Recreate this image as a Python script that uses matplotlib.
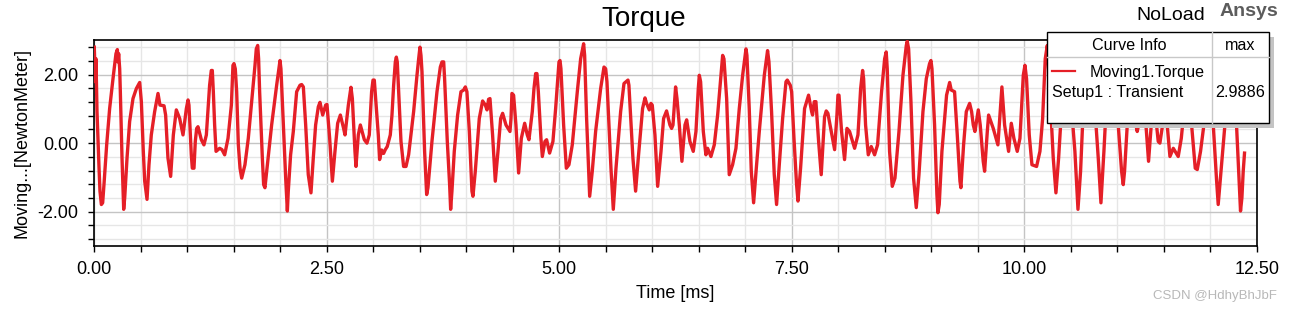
import matplotlib
matplotlib.use("Agg")
import matplotlib.pyplot as plt
from matplotlib.patches import Rectangle
from matplotlib.lines import Line2D
import numpy as np

plt.rcParams['font.family'] = ['Liberation Sans', 'DejaVu Sans']
plt.rcParams['axes.unicode_minus'] = False

# ---------------- data ----------------
time_ms = [
    0.000, 0.011, 0.018, 0.029, 0.040, 0.051, 0.061, 0.076, 0.090, 0.104, 0.133, 0.165, 0.201, 0.233, 0.248,
    0.255, 0.262, 0.273, 0.280, 0.298, 0.316, 0.327, 0.352, 0.380, 0.416, 0.452, 0.488, 0.506, 0.527, 0.542,
    0.567, 0.588, 0.613, 0.649, 0.685, 0.706, 0.750, 0.767, 0.792, 0.821, 0.850, 0.882, 0.918, 0.954, 0.990,
    1.008, 1.018, 1.043, 1.054, 1.072, 1.086, 1.101, 1.115, 1.151, 1.179, 1.205, 1.223, 1.240, 1.258, 1.269,
    1.280, 1.294, 1.309, 1.348, 1.373, 1.402, 1.438, 1.474, 1.491, 1.502, 1.516, 1.531,
    1.549, 1.567, 1.585, 1.620, 1.656, 1.692, 1.728, 1.742, 1.757, 1.767, 1.778, 1.807, 1.821, 1.835, 1.861,
    1.907, 1.961, 1.997, 2.007, 2.033, 2.058, 2.076, 2.086, 2.111, 2.140, 2.176, 2.212, 2.230, 2.248, 2.273,
    2.301, 2.330, 2.355, 2.380, 2.409, 2.427, 2.456, 2.488, 2.502, 2.531, 2.560, 2.588, 2.617, 2.646, 2.681,
    2.696, 2.732, 2.760, 2.775, 2.803, 2.814, 2.839, 2.861, 2.904, 2.932, 2.957, 2.982, 2.997, 3.011, 3.036,
    3.054, 3.068, 3.090, 3.111, 3.129, 3.150,
    3.183, 3.201, 3.219, 3.237, 3.248, 3.258, 3.273, 3.298, 3.326, 3.352, 3.380, 3.434, 3.470, 3.488, 3.502,
    3.513, 3.524, 3.552, 3.574, 3.588, 3.631, 3.685, 3.721, 3.739, 3.757, 3.767, 3.796, 3.821, 3.832, 3.846,
    3.871, 3.907, 3.943, 3.972, 3.990, 4.007, 4.033, 4.061, 4.072, 4.097, 4.140, 4.176, 4.205, 4.223, 4.240,
    4.255, 4.283, 4.312, 4.341, 4.370, 4.391, 4.427, 4.470, 4.481, 4.491, 4.509, 4.534, 4.563, 4.592, 4.628,
    4.656, 4.674,
    4.710, 4.728, 4.746, 4.760, 4.775, 4.803, 4.818, 4.846, 4.864, 4.896, 4.932, 4.961, 4.997, 5.008, 5.018,
    5.047, 5.076, 5.104, 5.140, 5.194, 5.230, 5.262, 5.273, 5.294, 5.327, 5.355, 5.391, 5.445, 5.481, 5.499,
    5.513, 5.556, 5.581, 5.610, 5.660, 5.696, 5.739, 5.749, 5.792, 5.821, 5.850, 5.896, 5.922, 5.939, 5.968,
    5.986, 6.000, 6.029, 6.058, 6.094, 6.122, 6.154, 6.190, 6.208, 6.223, 6.251, 6.266,
    6.291, 6.309, 6.319, 6.352, 6.370, 6.405, 6.441, 6.470, 6.495, 6.506, 6.520, 6.549, 6.577, 6.595, 6.631,
    6.667, 6.703, 6.739, 6.757, 6.771, 6.800, 6.828, 6.864, 6.900, 6.936, 6.972, 7.008, 7.018, 7.043, 7.065,
    7.090, 7.119, 7.151, 7.205, 7.240, 7.255, 7.283, 7.312, 7.337, 7.366, 7.402, 7.438, 7.452, 7.484, 7.499,
    7.524, 7.552, 7.567, 7.595, 7.638, 7.681, 7.714, 7.724, 7.742, 7.760, 7.789, 7.817,
    7.853, 7.871, 7.889, 7.925, 7.961, 7.986, 7.997, 8.008, 8.036, 8.068, 8.094, 8.122, 8.176, 8.212, 8.241,
    8.262, 8.273, 8.294, 8.323, 8.355, 8.391, 8.423, 8.466, 8.499, 8.516, 8.527, 8.552, 8.581, 8.610, 8.653,
    8.696, 8.732, 8.742, 8.757, 8.782, 8.810, 8.839, 8.868, 8.911, 8.947, 8.982, 8.997, 9.008, 9.036, 9.061,
    9.072, 9.086, 9.115, 9.165, 9.198, 9.215, 9.251, 9.280, 9.309, 9.319, 9.348, 9.377, 9.413,
    9.434, 9.452, 9.470, 9.506, 9.527, 9.559, 9.574, 9.603, 9.617, 9.667, 9.717, 9.746, 9.760, 9.789, 9.832,
    9.861, 9.889, 9.925, 9.954, 9.990, 10.008, 10.025, 10.054, 10.083, 10.133, 10.169, 10.198, 10.226, 10.248,
    10.276, 10.312, 10.341, 10.370, 10.402, 10.456, 10.509, 10.545, 10.578, 10.606, 10.635, 10.707, 10.760,
    10.796, 10.825, 10.857, 10.886, 10.939, 11.011, 11.029,
    11.047, 11.065, 11.079, 11.108, 11.155, 11.201, 11.215, 11.230, 11.269, 11.309, 11.337, 11.366, 11.395,
    11.423, 11.441, 11.459, 11.488, 11.513, 11.538, 11.567, 11.603, 11.656, 11.689, 11.703, 11.746, 11.800,
    11.839, 11.861, 11.896, 11.932, 11.979, 12.033, 12.069, 12.086, 12.122, 12.158, 12.219, 12.283, 12.312,
    12.326, 12.341, 12.355, 12.369,
]
torque_nm = [
    2.80, 1.79, 2.46, 0.92, 0.05, -0.73, -1.40, -1.79, -1.74, -1.21, -0.05, 1.01, 1.88, 2.61, 2.73,
    2.37, 2.61, 2.17, 1.50, -0.43, -1.93, -1.59, -0.43, 0.63, 1.30, 1.59, 1.77, 1.21, -0.24, -1.11,
    -1.64, -0.63, 0.24, 0.92, 1.45, 1.11, 1.09, 0.82, -0.43, -0.97, 0.24, 0.97, 0.72, 0.24, 1.01,
    1.26, 1.11, -0.34, -0.73, -0.73, 0.05, 0.43, 0.48, 0.10, -0.05, 0.24, 1.01, 1.69, 2.12, 2.12,
    1.50, 0.53, -0.24, -0.15, -0.19, -0.34, 0.14, 1.11, 2.27, 2.32, 2.17, 1.50,
    -0.05, -0.73, -1.02, -0.63, 0.14, 1.21, 2.27, 2.75, 2.85, 2.46, 1.50, -0.43, -1.21, -1.30, -0.63,
    0.53, 1.69, 2.41, 2.17, 0.53, -1.02, -1.98, -1.40, -0.34, 0.34, 1.50, 1.69, 1.71, 1.64, 0.53,
    -0.92, -1.45, -0.43, 0.53, 1.06, 1.19, 0.82, 1.11, 1.13, 0.14, -1.11, -0.24, 0.58, 0.82, 0.43,
    0.24, 1.11, 1.63, 1.30, -0.24, -0.68, 0.24, 0.53, 0.10, 0.00, 0.24, 1.50, 1.84, 1.84, 0.92,
    0.24, -0.48, -0.20, -0.30, -0.19, -0.10,
    0.24, 0.82, 1.69, 2.37, 2.51, 2.37, 1.50, 0.05, -0.68, -0.68, -0.34, 0.92, 1.98, 2.46, 2.80,
    2.56, 2.08, -0.24, -1.50, -1.30, 0.05, 1.50, 2.22, 2.37, 2.37, 1.88, 0.05, -1.21, -1.93, -1.40,
    -0.24, 0.82, 1.50, 1.55, 1.64, 1.50, 0.34, -1.40, -1.55, -0.82, 0.72, 1.23, 1.11, 0.97, 1.28,
    1.30, 0.24, -1.11, -0.24, 0.72, 0.87, 0.53, 0.34, 0.72, 1.45, 1.40, 0.53, -0.87, 0.14, 0.58,
    0.24, 0.10,
    0.92, 1.59, 2.03, 2.03, 1.50, 0.14, -0.39, 0.05, 0.10, -0.29, 0.05, 1.01, 2.37, 2.41, 2.17,
    0.53, -0.73, -0.63, -0.05, 1.50, 2.46, 2.90, 2.56, 0.72, -1.55, -0.82, 0.34, 1.59, 2.22, 2.17,
    1.79, -0.73, -1.93, -0.73, 0.92, 1.74, 1.84, 1.69, -0.43, -1.40, -0.43, 1.01, 1.32, 1.16, 0.97,
    1.16, 1.11, 0.24, -1.26, -0.24, 0.72, 0.94, 0.53, 0.43, 0.53, 1.64, 1.30,
    0.53, -0.15, -0.53, 0.53, 0.68, 0.05, -0.24, 0.34, 1.59, 1.98, 1.79, 0.34, -0.34, -0.15, -0.39,
    -0.05, 0.82, 1.98, 2.56, 2.46, 1.30, -0.92, -0.63, -0.15, 1.01, 1.98, 2.75, 2.56, 1.01, -0.82,
    -1.74, -0.73, 0.34, 1.98, 2.70, 2.37, 0.92, -0.92, -1.79, -0.63, 0.72, 1.79, 1.84, 1.69, 1.50,
    0.14, -1.21, -1.69, -0.73, 1.01, 1.40, 0.92, 0.82, 1.21, 1.21, 0.05, -0.92,
    0.77, 0.94, 0.87, 0.34, -0.19, 0.82, 1.40, 1.40, 0.34, -0.48, 0.43, 0.34, -0.15, 0.24, 1.59,
    2.12, 1.88, 0.53, -0.34, -0.10, -0.34, -0.05, 1.50, 2.46, 2.66, 2.17, -0.24, -1.26, -1.02, 0.34,
    1.98, 2.85, 2.97, 2.75, 1.21, -1.02, -1.88, -0.92, 0.92, 1.88, 2.32, 2.41, 2.17, 0.53, -1.50,
    -2.03, -1.79, -0.24, 1.40, 1.77, 1.55, 1.50, 0.24, -1.11, -1.30, -0.05, 0.92, 1.16,
    0.92, 0.53, 0.34, 0.97, 0.53, -0.53, -0.82, 0.34, 0.82, 0.43, -0.05, 1.11, 1.64, 0.53, -0.24,
    0.58, 0.14, -0.24, 0.14, 1.98, 2.27, 1.88, 0.24, -0.63, -0.68, -0.24, 0.72, 2.46, 2.85,
    1.50, -0.43, -1.45, -0.43, 1.01, 2.27, 1.01, -0.24, -1.93, -0.82, 1.01, 2.37, 1.01,
    -0.43, -1.74, -0.24, 1.30, 2.08, 0.53, -0.15,
    -0.82, -1.21, -0.82, 0.53, 1.69, 0.53, 0.34, 0.53, 1.50, 0.53, -0.53, 0.53, 1.11,
    0.53, 0.05, 0.00, 0.53, 1.30, 0.53, -0.39, -0.15, -0.39, 0.14, 0.53, 1.98, 0.53,
    -0.73, -0.77, -0.24, 0.53, 2.37, 0.53, -1.11, -1.79, -0.63, 0.53, 2.27, 0.53, -1.21,
    -1.98, -1.59, -0.82, -0.29,
]

x_major = [0.0, 2.5, 5.0, 7.5, 10.0, 12.5]
y_major = [-2.0, 0.0, 2.0]
series_name = "Moving1.Torque"
setup_name = "Setup1 : Transient"
max_text = "2.9886"

# ---------------- figure ----------------
W, H = 1291, 310
fig = plt.figure(figsize=(W / 100, H / 100), dpi=100)
ax = fig.add_axes([94.3 / W, 1 - 246 / H, (1256.7 - 94.3) / W, (246 - 40.3) / H])

RED = '#e51f27'
ax.plot(time_ms, torque_nm, color=RED, lw=2.4, solid_joinstyle='round', zorder=3)

ax.set_xlim(0, 12.5)
ax.set_ylim(-3.0, 3.0)
ax.set_xticks(x_major)
ax.set_xticklabels([f"{v:.2f}" for v in x_major])
ax.set_xticks(np.arange(0, 12.51, 0.5), minor=True)
ax.set_yticks(y_major)
ax.set_yticklabels([f"{v:.2f}" for v in y_major])
ax.set_yticks(np.arange(-2.8, 2.81, 0.4), minor=True)

ax.grid(which='major', color='#c4c4c4', lw=1.0)
ax.grid(which='minor', color='#e6e6e6', lw=1.0)
ax.set_axisbelow(True)

ax.tick_params(which='both', direction='out', length=4.5, width=1, color='black')
ax.tick_params(axis='x', which='major', labelsize=13, pad=6)
ax.tick_params(axis='y', which='major', labelsize=13, pad=7)
for s in ax.spines.values():
    s.set_color('black')
    s.set_linewidth(1.2)

ax.set_xlabel("Time [ms]", fontsize=13, labelpad=5)
ax.set_ylabel("Moving...[NewtonMeter]", fontsize=13, labelpad=5)

fig.text(643.5 / W, 1 - 19 / H, "Torque", fontsize=20, ha='center', va='center')
fig.text(1171 / W, 1 - 16 / H, "NoLoad", fontsize=14, ha='center', va='center')
fig.text(1249 / W, 1 - 12 / H, "Ansys", fontsize=14, fontweight='bold', color='#5c5c5c',
         ha='center', va='center')
fig.text(1215 / W, 1 - 296 / H, "CSDN @HdhyBhJbF", fontsize=9.5, color='#b8b8b8',
         ha='center', va='center')

# ---------------- legend box (figure coords) ----------------
def fx(x):
    return x / W

def fy(y):
    return 1 - y / H

L, T, R, B = 1046.7, 31.7, 1268.7, 122.7
fig.patches.append(Rectangle((fx(L + 5), fy(B + 5)), (R - L) / W, (B - T) / H,
                             transform=fig.transFigure, facecolor='#c4c4c4', edgecolor='none',
                             zorder=10))
fig.patches.append(Rectangle((fx(L), fy(B)), (R - L) / W, (B - T) / H,
                             transform=fig.transFigure, facecolor='white', edgecolor='black',
                             lw=1.0, zorder=11))
fig.lines.append(Line2D([fx(L), fx(R)], [fy(57.3), fy(57.3)], transform=fig.transFigure,
                        color='#c8c8c8', lw=1.0, zorder=12))
fig.lines.append(Line2D([fx(1211.7), fx(1211.7)], [fy(T), fy(B)], transform=fig.transFigure,
                        color='#c8c8c8', lw=1.0, zorder=12))
fig.lines.append(Line2D([fx(1051.7), fx(1075)], [fy(70.7), fy(70.7)], transform=fig.transFigure,
                        color=RED, lw=1.6, zorder=12))
kw = dict(fontsize=11.6, va='center', zorder=13)
fig.text(fx(1129.7), fy(45.5), "Curve Info", ha='center', **kw)
fig.text(fx(1240.5), fy(45.5), "max", ha='center', **kw)
fig.text(fx(1090), fy(72), series_name, ha='left', **kw)
fig.text(fx(1051.7), fy(92.5), setup_name, ha='left', **kw)
fig.text(fx(1240), fy(92.5), max_text, ha='center', **kw)

fig.savefig("out.png", dpi=100)
